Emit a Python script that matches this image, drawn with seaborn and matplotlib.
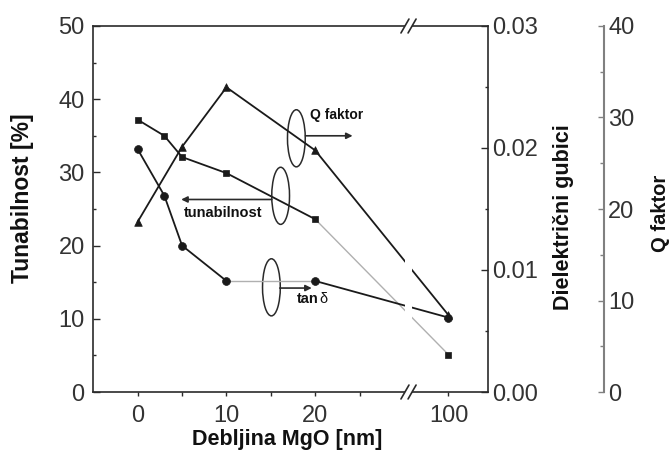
import numpy as np
import pandas as pd
import matplotlib
matplotlib.use("Agg")
import matplotlib.pyplot as plt
import seaborn as sns
from matplotlib.patches import Ellipse, Rectangle
from matplotlib.lines import Line2D
from matplotlib.ticker import MultipleLocator, FixedLocator

# ---------------- data ----------------
thickness_nm = [0, 3, 5, 10, 20, 100]
tunabilnost = [37.2, 35.0, 32.1, 29.9, 23.6, 5.1]          # %
tan_delta = [0.0199, 0.0161, 0.0120, 0.0091, 0.0091, 0.0061]  # dielectric loss
q_thickness_nm = [0, 5, 10, 20, 100]
q_factor = [18.6, 26.8, 33.3, 26.4, 8.4]
x_tick_values = [0, 10, 20, 100]
x_tick_labels = ["0", "10", "20", "100"]


def xpos(v):
    # broken x axis: values beyond the break are shifted next to 25 nm
    v = np.asarray(v, dtype=float)
    return np.where(v <= 25, v, v - 65.0)


sns.set_style("ticks")
plt.rcParams["font.family"] = ["Liberation Sans", "DejaVu Sans"]

fig = plt.figure(figsize=(6.7, 4.61), dpi=100)
ax = fig.add_axes([93 / 670, 1 - 392 / 461, 395 / 670, 366 / 461])
ax2 = ax.twinx()
ax3 = ax.twinx()

BLACK = "#1a1a1a"
GRAY = "#b0b0b0"
LW = 1.3

df_t = pd.DataFrame({"x": xpos(thickness_nm), "y": tunabilnost})
df_d = pd.DataFrame({"x": xpos(thickness_nm), "y": tan_delta})
df_q = pd.DataFrame({"x": xpos(q_thickness_nm), "y": q_factor})


def seg(a, df, i0, i1, color, lw):
    sns.lineplot(data=df.iloc[i0:i1 + 1], x="x", y="y", ax=a, color=color,
                 linewidth=lw, sort=False, estimator=None, legend=False)


# tunabilnost (left axis)
seg(ax, df_t, 0, 4, BLACK, LW)
seg(ax, df_t, 4, 5, GRAY, 1.0)
sns.scatterplot(data=df_t, x="x", y="y", ax=ax, marker="s", s=22,
                color=BLACK, edgecolor=BLACK, linewidth=0.5, zorder=4, legend=False)

# tan delta (dielectric losses axis)
seg(ax2, df_d, 0, 3, BLACK, LW)
seg(ax2, df_d, 3, 4, GRAY, 1.0)
seg(ax2, df_d, 4, 5, BLACK, LW)
sns.scatterplot(data=df_d, x="x", y="y", ax=ax2, marker="o", s=32,
                color=BLACK, edgecolor=BLACK, linewidth=0.5, zorder=4, legend=False)

# Q factor (third axis)
seg(ax3, df_q, 0, 4, BLACK, LW)
sns.scatterplot(data=df_q, x="x", y="y", ax=ax3, marker="^", s=30,
                color=BLACK, edgecolor=BLACK, linewidth=0.5, zorder=4, legend=False)

# ---------------- axes ----------------
ax.set_xlim(-5.03, 39.45)
ax.set_ylim(0, 50)
ax2.set_ylim(0, 0.03)
ax3.set_ylim(0, 40)

ax.xaxis.set_major_locator(FixedLocator(xpos(x_tick_values)))
ax.set_xticklabels(x_tick_labels)
ax.xaxis.set_minor_locator(FixedLocator([5, 15, 25]))
ax.yaxis.set_major_locator(MultipleLocator(10))
ax.yaxis.set_minor_locator(MultipleLocator(5))
ax2.yaxis.set_major_locator(MultipleLocator(0.01))
ax2.yaxis.set_minor_locator(MultipleLocator(0.005))
ax2.yaxis.set_major_formatter(matplotlib.ticker.FormatStrFormatter("%.2f"))
ax3.yaxis.set_major_locator(MultipleLocator(10))
ax3.yaxis.set_minor_locator(MultipleLocator(5))

TICKC = "#333333"
FS = 17
SPC = "#2a2a2a"
for a in (ax, ax2, ax3):
    for s in a.spines.values():
        s.set_linewidth(1.2)
        s.set_color(SPC)

ax.spines["right"].set_visible(False)
ax2.spines["left"].set_visible(False)
ax2.spines["top"].set_visible(False)
ax2.spines["bottom"].set_visible(False)
for k in ("left", "top", "bottom"):
    ax3.spines[k].set_visible(False)
ax3.spines["right"].set_position(("axes", 1.294))
ax3.spines["right"].set_color("#808080")
ax3.spines["right"].set_linewidth(1.5)

ax.tick_params(axis="y", which="both", direction="in", left=True, right=False,
               labelsize=FS, labelcolor=TICKC, color=SPC, pad=6)
ax.tick_params(axis="y", which="major", length=5, width=1.0)
ax.tick_params(axis="y", which="minor", length=2.5, width=1.0)
ax.tick_params(axis="x", which="both", direction="out", bottom=True, top=False,
               length=3, width=1.0, labelsize=FS, labelcolor=TICKC, color=SPC, pad=6)

ax2.tick_params(axis="y", which="both", direction="in", right=True, left=False,
                labelsize=FS, labelcolor=TICKC, color=SPC, pad=3)
ax2.tick_params(axis="y", which="major", length=5, width=1.0)
ax2.tick_params(axis="y", which="minor", length=2.5, width=1.0)

ax3.tick_params(axis="y", which="both", direction="in", right=True, left=False,
                labelsize=FS, labelcolor=TICKC, color="#808080", pad=3)
ax3.tick_params(axis="y", which="major", length=4, width=1.0)
ax3.tick_params(axis="y", which="minor", length=3, width=1.0)

LFS = 15.5
ax.set_xlabel("Debljina MgO [nm]", fontsize=LFS, fontweight="bold", color="#111111")
ax.xaxis.set_label_coords(0.491, -0.1)
ax.set_ylabel("Tunabilnost [%]", fontsize=LFS + 1, fontweight="bold", color="#111111")
ax.yaxis.set_label_coords(-0.15, 0.53)
ax2.set_ylabel("Dielektrični gubici", fontsize=LFS, fontweight="bold", color="#111111")
ax2.yaxis.set_label_coords(1.165, 0.479)
ax3.set_ylabel("Q faktor", fontsize=LFS - 1, fontweight="bold", color="#111111")
ax3.yaxis.set_label_coords(1.413, 0.488)

# ---------------- axis break ----------------
tr = ax3.get_xaxis_transform()
ax3.add_patch(Rectangle((30.1, -0.03), 0.8, 1.06, transform=tr, facecolor="white",
                        edgecolor="none", clip_on=False, zorder=10))
for xc in (30.1, 30.9):
    for yc in (0.0, 1.0):
        ax3.add_line(Line2D([xc - 0.45, xc + 0.45], [yc - 0.019, yc + 0.019],
                            transform=tr, color=SPC, lw=1.2, clip_on=False, zorder=11))

# ---------------- annotations (ellipses + arrows) ----------------
EC = "#2a2a2a"
for (cx, cy) in [(17.87, 34.66), (16.1, 26.8), (15.06, 14.3)]:
    ax.add_patch(Ellipse((cx, cy), 2.0, 7.8, fill=False, edgecolor=EC, lw=1.1, zorder=5))

arrow = dict(arrowstyle="-|>", color=EC, lw=1.2, mutation_scale=9, shrinkA=0, shrinkB=0)
ax.annotate("", xy=(24.2, 35.0), xytext=(18.9, 35.0), arrowprops=arrow)
ax.annotate("", xy=(4.9, 26.3), xytext=(15.1, 26.3), arrowprops=arrow)
ax.annotate("", xy=(19.6, 14.2), xytext=(16.0, 14.2), arrowprops=arrow)

ax.text(19.4, 37.8, "Q faktor", fontsize=10, fontweight="bold", va="center", ha="left", color="#111111")
ax.text(5.2, 24.5, "tunabilnost", fontsize=10.5, fontweight="bold", va="center", ha="left", color="#111111")
t_tan = ax.text(17.9, 12.1, "tan", fontsize=10.5, fontweight="bold", va="baseline", ha="left", color="#111111")
ax.annotate("δ", xy=(1.0, 0.0), xycoords=t_tan, xytext=(0.5, 0), textcoords="offset points",
            fontsize=10.5, fontweight="normal", va="bottom", ha="left", color="#111111")

fig.savefig("out.png", dpi=100)
